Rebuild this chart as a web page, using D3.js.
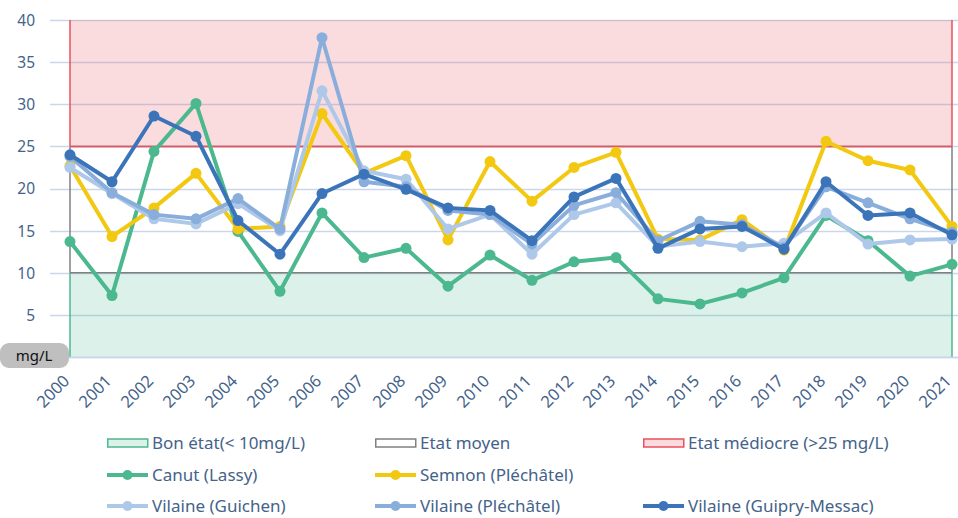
<!DOCTYPE html>
<html>
<head>
<meta charset="utf-8">
<script src="https://cdn.jsdelivr.net/npm/d3@7"></script>
<style>
  html, body { margin: 0; padding: 0; background: #fff; }
  svg { display: block; font-family: "Noto Sans", "Open Sans", sans-serif; }
</style>
</head>
<body>
<svg id="chart" width="958" height="518"></svg>
<script>
// ---------- DATA ----------
const years = d3.range(2000, 2022);
const yTicks = [5, 10, 15, 20, 25, 30, 35, 40];
const unitLabel = "mg/L";

const bandNames = ["Bon état(< 10mg/L)", "Etat moyen", "Etat médiocre (>25 mg/L)"];
const bandLimits = [[0, 10], [10, 25], [25, 40]];

const seriesNames = ["Canut (Lassy)", "Semnon (Pléchâtel)", "Vilaine (Guichen)", "Vilaine (Pléchâtel)", "Vilaine (Guipry-Messac)"];

const canut = [13.7, 7.3, 24.4, 30.1, 14.9, 7.8, 17.1, 11.8, 12.9, 8.4, 12.1, 9.1, 11.3, 11.8, 6.9, 6.3, 7.6, 9.4, 16.8, 13.8, 9.6, 11.0];
const semnon = [22.7, 14.3, 17.7, 21.8, 15.2, 15.5, 28.9, 21.8, 23.9, 13.9, 23.2, 18.5, 22.5, 24.3, 14.0, 13.9, 16.3, 12.7, 25.6, 23.3, 22.2, 15.5];
const guichen = [22.5, 19.4, 16.4, 15.8, 18.2, 15.0, 31.6, 22.1, 21.1, 15.2, 16.9, 12.2, 16.9, 18.3, 13.1, 13.7, 13.1, 13.5, 17.1, 13.4, 13.9, 14.0];
const plechatel = [23.8, 19.5, 16.9, 16.4, 18.8, 15.2, 37.9, 20.8, 20.2, 17.4, 16.9, 13.4, 18.0, 19.5, 13.8, 16.1, 15.7, 13.0, 20.2, 18.3, 16.4, 14.8];
const guipry = [24.0, 20.8, 28.6, 26.2, 16.2, 12.2, 19.4, 21.7, 19.9, 17.7, 17.4, 13.8, 19.0, 21.2, 12.9, 15.2, 15.5, 12.8, 20.8, 16.8, 17.1, 14.5];

const seriesValues = [canut, semnon, guichen, plechatel, guipry];

// ---------- STYLE ----------
const seriesColors = ["#4cb88f", "#f2c811", "#adc8e8", "#8aaedb", "#3c74ba"];
const bandFill = ["rgba(76,184,143,0.2)", "rgba(255,255,255,0)", "rgba(232,82,94,0.2)"];
const bandStroke = ["#4cb88f", "#808080", "#e8525e"];
const textColor = "#44638a";

const svg = d3.select("#chart");
const W = 958, H = 518;
const plotL = 70, plotR = 952, plotT = 20, plotB = 357;

const x = d3.scaleLinear().domain([2000, 2021]).range([plotL, plotR]);
const y = d3.scaleLinear().domain([0, 40]).range([plotB, plotT]);

// grid lines
const grid = svg.append("g");
grid.selectAll("line").data([0].concat(yTicks)).join("line")
  .attr("x1", 50).attr("x2", W)
  .attr("y1", d => Math.round(y(d)) + 0.5).attr("y2", d => Math.round(y(d)) + 0.5)
  .attr("stroke", "#ccd6eb").attr("stroke-width", 1.5);

// y axis labels
const yAxis = d3.axisLeft(y).tickValues(yTicks).tickSize(0).tickPadding(0);
const gy = svg.append("g").attr("transform", "translate(35,0)").call(yAxis);
gy.select(".domain").remove();
gy.selectAll("text").attr("fill", textColor).attr("font-size", 15.5).attr("font-family", "\"Noto Sans\", sans-serif").attr("dy", "0.35em");

// bands (fills)
const bands = svg.append("g");
bandLimits.forEach((lim, i) => {
  bands.append("rect")
    .attr("x", plotL).attr("width", plotR - plotL)
    .attr("y", y(lim[1])).attr("height", y(lim[0]) - y(lim[1]))
    .attr("fill", bandFill[i]);
});
// band borders: green, then gray, then red on top
bandLimits.forEach((lim, i) => {
  const g = bands.append("g").attr("stroke", bandStroke[i]).attr("stroke-width", 1.5).attr("fill", "none");
  const y0 = y(lim[0]), y1 = y(lim[1]);
  g.append("line").attr("x1", plotL).attr("x2", plotL).attr("y1", y0).attr("y2", y1);
  g.append("line").attr("x1", plotR).attr("x2", plotR).attr("y1", y0).attr("y2", y1);
  if (i === 1) {
    g.append("line").attr("x1", plotL).attr("x2", plotR).attr("y1", y1).attr("y2", y1);
    g.append("line").attr("x1", plotL).attr("x2", plotR).attr("y1", y0).attr("y2", y0);
  }
  if (i === 2) {
    g.append("line").attr("x1", plotL).attr("x2", plotR).attr("y1", y0).attr("y2", y0);
  }
});

// x axis
const xAxis = d3.axisBottom(x).tickValues(years).tickFormat(d3.format("d")).tickSize(0);
const gx = svg.append("g").attr("transform", `translate(0,${plotB})`).call(xAxis);
gx.select(".domain").attr("stroke", "#ccd6eb").attr("stroke-width", 1.5).attr("d", `M50,0.5H${W}`);
gx.selectAll("text")
  .attr("fill", textColor).attr("font-size", 16.5).attr("font-family", "\"Noto Sans\", sans-serif")
  .attr("text-anchor", "end")
  .attr("dy", null).attr("y", null)
  .attr("transform", "translate(0,25) rotate(-45)");

// unit label
const ul = svg.append("g");
ul.append("rect").attr("x", 0).attr("y", 343).attr("width", 69).attr("height", 25).attr("rx", 9)
  .attr("fill", "#bfbfbf");
ul.append("text").attr("x", 34).attr("y", 356).attr("dy", "0.35em").attr("text-anchor", "middle")
  .attr("font-size", 15).attr("fill", "#111").text(unitLabel);

// series
const line = d3.line().x((d, i) => x(years[i])).y(d => y(d));
const gs = svg.append("g");
seriesValues.forEach((vals, si) => {
  const g = gs.append("g");
  g.append("path").attr("d", line(vals)).attr("fill", "none")
    .attr("stroke", seriesColors[si]).attr("stroke-width", 4).attr("stroke-linejoin", "round").attr("stroke-linecap", "round");
  g.selectAll("circle").data(vals).join("circle")
    .attr("cx", (d, i) => x(years[i])).attr("cy", d => y(d)).attr("r", 5.5)
    .attr("fill", seriesColors[si]);
});

// legend
const legendRows = [
  bandNames.map((n, i) => ({ name: n, type: "band", i })),
  seriesNames.slice(0, 2).map((n, i) => ({ name: n, type: "series", i })),
  seriesNames.slice(2).map((n, i) => ({ name: n, type: "series", i: i + 2 }))
];
const colX = [107, 375, 643];
const rowY = [443, 475, 506];
const lg = svg.append("g");
legendRows.forEach((row, r) => {
  row.forEach((it, c) => {
    const g = lg.append("g").attr("transform", `translate(${colX[c]},${rowY[r]})`);
    if (it.type === "band") {
      g.append("rect").attr("x", 0.75).attr("y", -4).attr("width", 40).attr("height", 8)
        .attr("fill", bandFill[it.i]).attr("stroke", bandStroke[it.i]).attr("stroke-width", 1.5);
    } else {
      g.append("line").attr("x1", 0).attr("x2", 41).attr("y1", 0).attr("y2", 0)
        .attr("stroke", seriesColors[it.i]).attr("stroke-width", 4);
      g.append("circle").attr("cx", 20.5).attr("cy", 0).attr("r", 5).attr("fill", seriesColors[it.i]);
    }
    g.append("text").attr("x", 45).attr("y", 0).attr("dy", "0.35em")
      .attr("font-size", 17).attr("fill", textColor).text(it.name);
  });
});
</script>
</body>
</html>
